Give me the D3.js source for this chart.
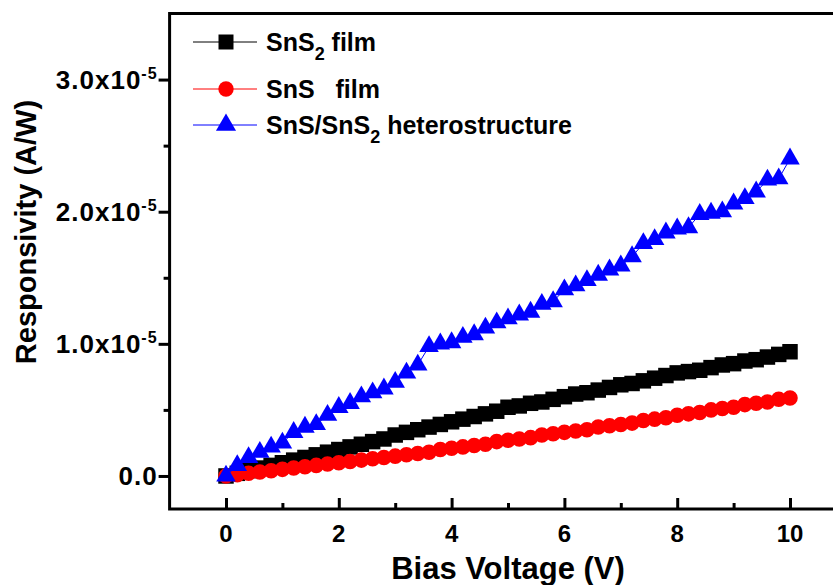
<!DOCTYPE html>
<html>
<head>
<meta charset="utf-8">
<script src="https://cdn.jsdelivr.net/npm/d3@7/dist/d3.min.js"></script>
<style>
  html, body { margin: 0; padding: 0; background: #fff; }
  svg { display: block; }
  text { font-family: "Liberation Sans", Arial, Helvetica, sans-serif; font-weight: bold; fill: #000; }
</style>
</head>
<body>
<svg id="chart" width="833" height="585"></svg>
<script>
// Bias voltage sweep (V)
const voltage = [
  0.0, 0.2, 0.4, 0.6, 0.8, 1.0, 1.2, 1.4, 1.6, 1.8,
  2.0, 2.2, 2.4, 2.6, 2.8, 3.0, 3.2, 3.4, 3.6, 3.8,
  4.0, 4.2, 4.4, 4.6, 4.8, 5.0, 5.2, 5.4, 5.6, 5.8,
  6.0, 6.2, 6.4, 6.6, 6.8, 7.0, 7.2, 7.4, 7.6, 7.8,
  8.0, 8.2, 8.4, 8.6, 8.8, 9.0, 9.2, 9.4, 9.6, 9.8,
  10.0
];

// Responsivity in units of 1e-5 A/W
const snS2Film = [
  0.00, 0.02, 0.04, 0.06, 0.08, 0.10, 0.12, 0.14, 0.16, 0.18,
  0.20, 0.22, 0.24, 0.26, 0.28, 0.31, 0.33, 0.35, 0.37, 0.39,
  0.41, 0.43, 0.45, 0.47, 0.49, 0.52, 0.53, 0.55, 0.56, 0.58,
  0.60, 0.62, 0.63, 0.65, 0.67, 0.69, 0.70, 0.72, 0.74, 0.76,
  0.78, 0.79, 0.80, 0.82, 0.84, 0.85, 0.87, 0.88, 0.90, 0.92,
  0.94
];
const snSFilm = [
  0.00, 0.01, 0.02, 0.03, 0.04, 0.05, 0.06, 0.07, 0.08, 0.09,
  0.10, 0.11, 0.12, 0.13, 0.14, 0.15, 0.16, 0.17, 0.18, 0.20,
  0.21, 0.22, 0.23, 0.24, 0.26, 0.27, 0.28, 0.29, 0.31, 0.32,
  0.33, 0.34, 0.35, 0.37, 0.38, 0.39, 0.40, 0.42, 0.43, 0.44,
  0.46, 0.47, 0.48, 0.50, 0.51, 0.52, 0.54, 0.55, 0.56, 0.58,
  0.59
];
const heterostructure = [
  0.00, 0.08, 0.14, 0.18, 0.22, 0.25, 0.33, 0.37, 0.39, 0.46,
  0.52, 0.55, 0.60, 0.63, 0.66, 0.71, 0.78, 0.84, 0.98, 1.00,
  1.01, 1.05, 1.07, 1.12, 1.16, 1.19, 1.22, 1.24, 1.30, 1.32,
  1.41, 1.44, 1.48, 1.52, 1.56, 1.59, 1.66, 1.76, 1.79, 1.84,
  1.87, 1.88, 1.98, 1.99, 2.00, 2.06, 2.10, 2.15, 2.24, 2.25,
  2.40
];

const xTicks = [0, 2, 4, 6, 8, 10];
const xMinorTicks = [1, 3, 5, 7, 9];
const yTicks = [0, 1, 2, 3];
const yMinorTicks = [0.5, 1.5, 2.5];
const yTickMantissa = ["0.0", "1.0", "2.0", "3.0"];

const seriesColors = ["#000000", "#ff0000", "#0000ff"];

const svg = d3.select("#chart");

const x = d3.scaleLinear().domain([-1, 11]).range([169.6, 846.4]);
const y = d3.scaleLinear().domain([-0.25, 3.5]).range([509, 13.5]);

// data series
const series = [
  { values: snS2Film, color: seriesColors[0], symbol: d3.symbolSquare, size: 240, legendSize: 225 },
  { values: snSFilm, color: seriesColors[1], symbol: d3.symbolCircle, size: 190, legendSize: 185 },
  { values: heterostructure, color: seriesColors[2], symbol: d3.symbolTriangle, size: 165, legendSize: 175 }
];

const plot = svg.append("g");
const line = d3.line().x((d, i) => x(voltage[i])).y(d => y(d));

series.forEach(s => {
  plot.append("path")
    .datum(s.values)
    .attr("d", line)
    .attr("fill", "none")
    .attr("stroke", s.color)
    .attr("stroke-width", 1);
  plot.selectAll(null)
    .data(s.values)
    .join("path")
    .attr("d", d3.symbol().type(s.symbol).size(s.size))
    .attr("transform", (d, i) => `translate(${x(voltage[i])},${y(d)})`)
    .attr("fill", s.color);
});

// frame
svg.append("rect")
  .attr("x", x(-1)).attr("y", y(3.5))
  .attr("width", x(11) - x(-1)).attr("height", y(-0.25) - y(3.5))
  .attr("fill", "none").attr("stroke", "#000").attr("stroke-width", 3);

// x axis: ticks pointing inward
const xAxis = svg.append("g").attr("transform", `translate(0,${y(-0.25)})`);
xAxis.append("g")
  .call(d3.axisTop(x).tickValues(xTicks).tickSize(11).tickFormat(""))
  .call(g => g.select(".domain").remove())
  .call(g => g.selectAll("line").attr("stroke-width", 3));
xAxis.append("g")
  .call(d3.axisTop(x).tickValues(xMinorTicks).tickSize(6).tickFormat(""))
  .call(g => g.select(".domain").remove())
  .call(g => g.selectAll("line").attr("stroke-width", 3));
xAxis.selectAll(null)
  .data(xTicks)
  .join("text")
  .attr("x", d => x(d))
  .attr("y", 33)
  .attr("text-anchor", "middle")
  .attr("font-size", 24)
  .text(d => d);

// y axis: ticks pointing outward
const yAxis = svg.append("g").attr("transform", `translate(${x(-1)},0)`);
yAxis.append("g")
  .call(d3.axisLeft(y).tickValues(yTicks).tickSize(11).tickFormat(""))
  .call(g => g.select(".domain").remove())
  .call(g => g.selectAll("line").attr("stroke-width", 3));
yAxis.append("g")
  .call(d3.axisLeft(y).tickValues(yMinorTicks).tickSize(6).tickFormat(""))
  .call(g => g.select(".domain").remove())
  .call(g => g.selectAll("line").attr("stroke-width", 3));

const yLabels = yAxis.selectAll(null)
  .data(yTicks)
  .join("text")
  .attr("x", -12)
  .attr("y", d => y(d) + 9)
  .attr("text-anchor", "end")
  .attr("font-size", 26)
  .attr("letter-spacing", 1);
yLabels.each(function (d, i) {
  const t = d3.select(this);
  if (d === 0) {
    t.text(yTickMantissa[i]);
  } else {
    t.append("tspan").text(yTickMantissa[i] + "x10");
    t.append("tspan").attr("font-size", 16).attr("dy", -10).text("-5");
  }
});

// axis titles
svg.append("text")
  .attr("x", 508).attr("y", 579)
  .attr("text-anchor", "middle")
  .attr("font-size", 31)
  .text("Bias Voltage (V)");
svg.append("text")
  .attr("transform", "translate(36,232) rotate(-90)")
  .attr("text-anchor", "middle")
  .attr("font-size", 29)
  .text("Responsivity (A/W)");

// legend
const legendRows = [42, 89, 125];
const legend = svg.append("g");
series.forEach((s, i) => {
  const row = legend.append("g").attr("transform", `translate(0,${legendRows[i]})`);
  row.append("line")
    .attr("x1", 193).attr("x2", 257).attr("y1", 0).attr("y2", 0)
    .attr("stroke", s.color).attr("stroke-width", 1);
  row.append("path")
    .attr("d", d3.symbol().type(s.symbol).size(s.legendSize))
    .attr("transform", "translate(226,0)")
    .attr("fill", s.color);
  const t = row.append("text").attr("x", 266).attr("y", 9).attr("font-size", 25);
  if (i === 0) {
    t.append("tspan").text("SnS");
    t.append("tspan").attr("font-size", 18).attr("dy", 9).text("2");
    t.append("tspan").attr("dy", -9).text(" film");
  } else if (i === 1) {
    t.append("tspan").text("SnS\u00a0\u00a0 film");
  } else {
    t.append("tspan").text("SnS/SnS");
    t.append("tspan").attr("font-size", 18).attr("dy", 9).text("2");
    t.append("tspan").attr("dy", -9).text(" heterostructure");
  }
});
</script>
</body>
</html>
